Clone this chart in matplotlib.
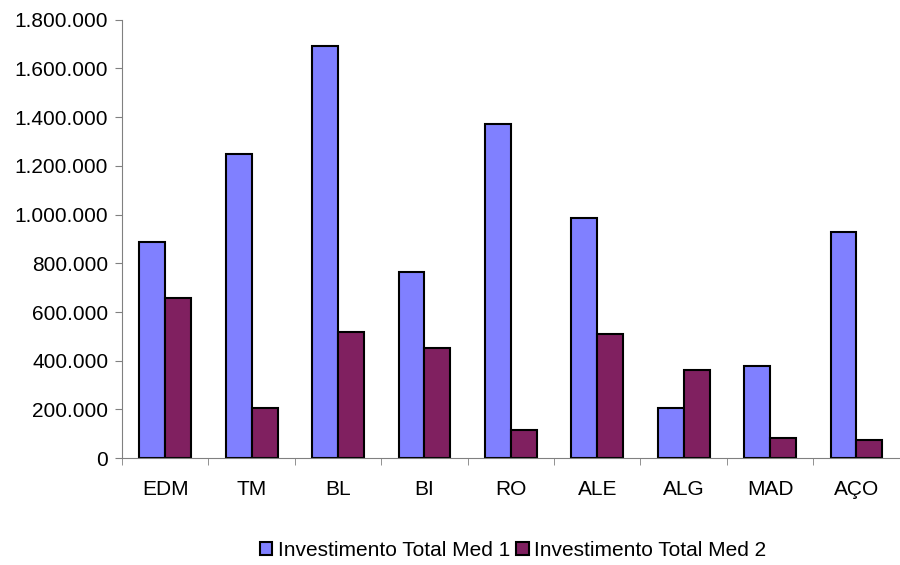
import matplotlib.pyplot as plt
import matplotlib.ticker as mticker
import numpy as np

plt.rcParams['font.family'] = ['Liberation Sans', 'DejaVu Sans']

# data
categorias = ['EDM', 'TM', 'BL', 'BI', 'RO', 'ALE', 'ALG', 'MAD', 'AÇO']
med1 = [887000, 1249000, 1693000, 764000, 1372000, 986000, 205000, 378000, 929000]
med2 = [657000, 205000, 518000, 452000, 115000, 510000, 362000, 82000, 74000]

fig = plt.figure(figsize=(9, 5.65), dpi=100)
ax = fig.add_axes([0.1356, 0.189, 0.864, 0.776])

x = np.arange(len(categorias))
w = 0.3
ax.bar(x - w/2, med1, w, color='#8080FF', edgecolor='black', linewidth=1.5,
       label='Investimento Total Med 1')
ax.bar(x + w/2, med2, w, color='#802060', edgecolor='black', linewidth=1.5,
       label='Investimento Total Med 2')

ax.set_xlim(-0.5, len(categorias) - 0.5)
ax.set_ylim(0, 1800000)
ax.set_yticks(np.arange(0, 1800001, 200000))
ax.yaxis.set_major_formatter(mticker.FuncFormatter(lambda v, p: f'{int(v):,}'.replace(',', '.')))

ax.set_xticks(x)
ax.set_xticklabels(categorias)
ax.set_xticks(np.arange(-0.5, len(categorias) + 0.5, 1), minor=True)
ax.tick_params(axis='x', which='major', length=0, pad=16, labelsize=15)
ax.tick_params(axis='x', which='minor', length=5, color='#808080')
ax.tick_params(axis='y', length=5, color='#808080', labelsize=15, pad=5)

for s in ['top', 'right']:
    ax.spines[s].set_visible(False)
for s in ['left', 'bottom']:
    ax.spines[s].set_color('#808080')

fig.legend(loc='center', bbox_to_anchor=(0.57, 0.026), ncol=2, frameon=False,
           fontsize=15, handlelength=0.6, handleheight=0.6, handletextpad=0.25,
           columnspacing=0.3)

plt.savefig('out.png')
